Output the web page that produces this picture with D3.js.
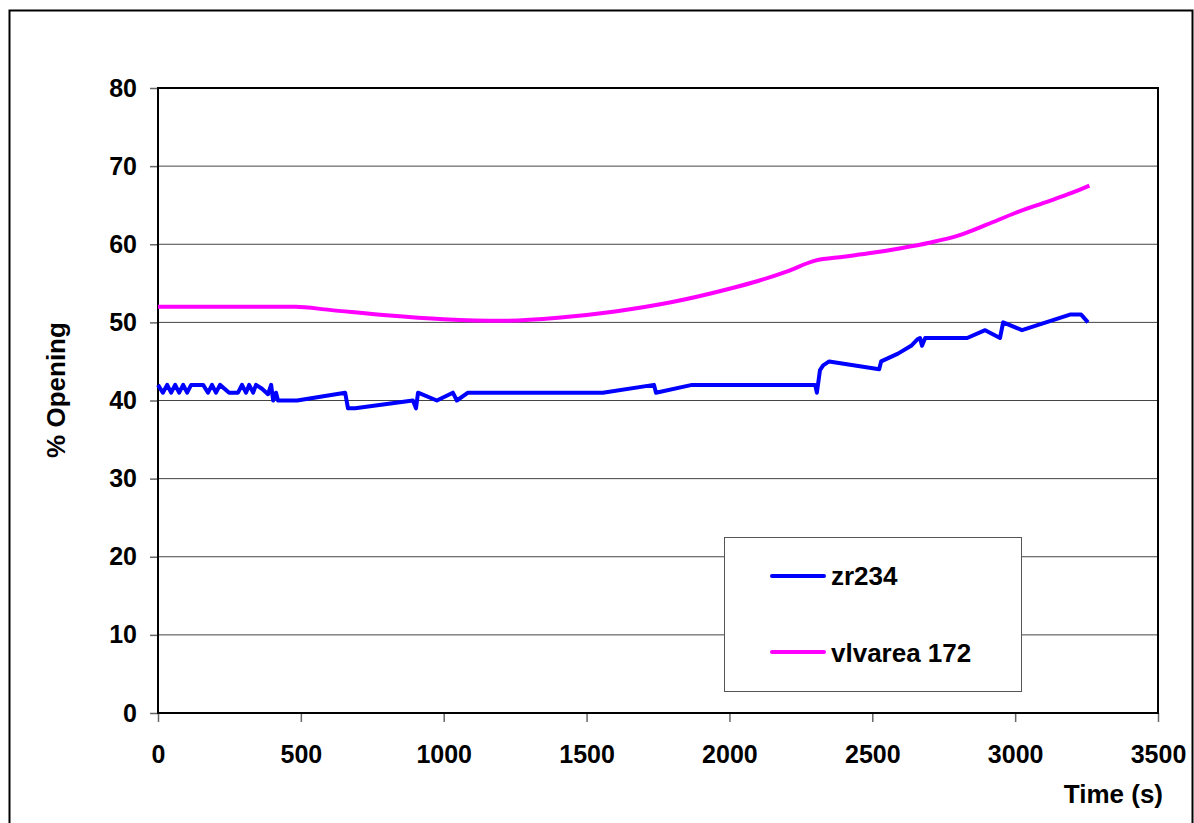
<!DOCTYPE html>
<html><head><meta charset="utf-8">
<script src="https://cdn.jsdelivr.net/npm/d3@7"></script>
<style>body{margin:0;background:#fff}svg{display:block}text{font-family:"Liberation Sans",Arial,sans-serif;font-weight:bold}</style>
</head><body>
<script>
const xTicks = [0,500,1000,1500,2000,2500,3000,3500];
const yTicks = [0,10,20,30,40,50,60,70,80];
const seriesNames = ["zr234","vlvarea 172"];
const seriesColors = ["#0000FF","#FF00FF"];
const zrTime = [0,17,32,46,60,74,88,102,116,158,175,189,203,217,249,280,294,308,319,333,343,364,385,396,403,413,420,438,487,655,665,690,892,903,910,976,1032,1046,1085,1557,1736,1743,1869,2300,2306,2317,2328,2349,2524,2531,2590,2636,2657,2667,2674,2685,2832,2895,2947,2958,3024,3192,3231,3255];
const zrValue = [42,41,42,41,42,41,42,41,42,42,41,42,41,42,41,41,42,41,42,41,42,41.5,40.8,42,40,41,40,40,40,41,39,39,40,39,41,40,41,40,41,41,42,41,42,42,41,43.9,44.5,45,44,45,46,47,47.8,48,47,48,48,49,48,50,49,51,51,50];
const vlTime = [0,300,480,600,800,1000,1200,1400,1600,1800,2000,2100,2200,2300,2400,2500,2600,2700,2800,2900,3000,3100,3200,3260];
const vlValue = [52,52,52,51.6,50.9,50.4,50.2,50.6,51.4,52.6,54.3,55.3,56.5,57.9,58.4,58.9,59.5,60.2,61.1,62.5,64,65.3,66.6,67.5];

const W=1194,H=823;
const svg=d3.select("body").append("svg").attr("width",W).attr("height",H);
svg.append("rect").attr("x",9.5).attr("y",10.5).attr("width",1183).attr("height",840).attr("fill","none").attr("stroke","#000").attr("stroke-width",2);

const L=158,R=1158,T=88,B=713;
const x=d3.scaleLinear().domain([0,3500]).range([L,R]);
const y=d3.scaleLinear().domain([0,80]).range([B,T]);

// gridlines
svg.append("g").selectAll("line").data(yTicks.filter(d=>d>0&&d<80)).join("line")
  .attr("x1",L).attr("x2",R).attr("y1",d=>y(d)).attr("y2",d=>y(d))
  .attr("stroke","#444").attr("stroke-width",1);

// axes
const fmt=d3.format("d");
const yAxis=svg.append("g").attr("transform",`translate(${L},0)`)
  .call(d3.axisLeft(y).tickValues(yTicks).tickFormat(fmt).tickSize(8).tickPadding(13));
const xAxis=svg.append("g").attr("transform",`translate(0,${B})`)
  .call(d3.axisBottom(x).tickValues(xTicks).tickFormat(fmt).tickSize(9).tickPadding(32));
[yAxis,xAxis].forEach(a=>{
  a.select(".domain").remove();
  a.selectAll(".tick line").attr("stroke","#666").attr("stroke-width",1.5);
  a.selectAll("text").attr("font-size",25).attr("fill","#000").style("font-family","'Liberation Sans',Arial,sans-serif").style("font-weight","bold");
});
xAxis.selectAll("text").attr("dy","0.35em");

// plot border
svg.append("rect").attr("x",L).attr("y",T).attr("width",R-L).attr("height",B-T)
  .attr("fill","none").attr("stroke","#000").attr("stroke-width",2);

const line=d3.line().x(d=>x(d[0])).y(d=>y(d[1]));
const zr=zrTime.map((t,i)=>[t,zrValue[i]]);
const vl=vlTime.map((t,i)=>[t,vlValue[i]]);
svg.append("path").datum(vl).attr("d",d3.line().x(d=>x(d[0])).y(d=>y(d[1])).curve(d3.curveMonotoneX)).attr("fill","none")
  .attr("stroke",seriesColors[1]).attr("stroke-width",4).attr("stroke-linejoin","round");
svg.append("path").datum(zr).attr("d",line).attr("fill","none")
  .attr("stroke",seriesColors[0]).attr("stroke-width",4).attr("stroke-linejoin","round");

// labels
svg.append("text").attr("transform","translate(65,390) rotate(-90)").attr("text-anchor","middle")
  .attr("font-size",26).text("% Opening");
svg.append("text").attr("x",1163).attr("y",803).attr("text-anchor","end").attr("font-size",26).text("Time (s)");

// legend
const lg=svg.append("g");
lg.append("rect").attr("x",724.5).attr("y",537.5).attr("width",297).attr("height",154)
  .attr("fill","#fff").attr("stroke","#555").attr("stroke-width",1);
const ly=[576,652];
const lb=[585,662];
seriesNames.forEach((n,i)=>{
  lg.append("line").attr("x1",772).attr("x2",824).attr("y1",ly[i]).attr("y2",ly[i])
    .attr("stroke",seriesColors[i]).attr("stroke-width",4).attr("stroke-linecap","round");
  lg.append("text").attr("x",831).attr("y",lb[i]).attr("font-size",26).text(n);
});
</script>
</body></html>
